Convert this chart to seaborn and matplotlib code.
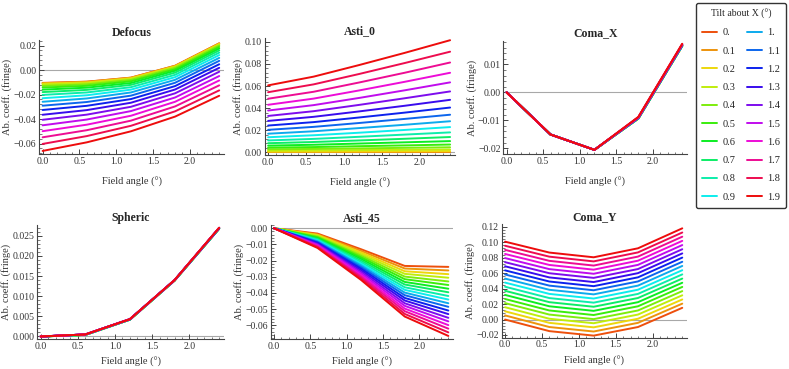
import colorsys
import numpy as np
import pandas as pd
import matplotlib
matplotlib.use("Agg")
import matplotlib.pyplot as plt
import seaborn as sns
from matplotlib.ticker import MultipleLocator, AutoMinorLocator, FuncFormatter
from matplotlib.lines import Line2D

# ---------------- data ----------------
FIELD = [0.0, 0.6, 1.2, 1.8, 2.4]
TILTS = ["0.", "0.1", "0.2", "0.3", "0.4", "0.5", "0.6", "0.7", "0.8", "0.9",
         "1.", "1.1", "1.2", "1.3", "1.4", "1.5", "1.6", "1.7", "1.8", "1.9"]

DEFOCUS = [
    [-0.0105, -0.0095, -0.0062, 0.0035, 0.0218],
    [-0.0107, -0.0096, -0.0063, 0.0034, 0.0217],
    [-0.0111, -0.0101, -0.0067, 0.0030, 0.0213],
    [-0.0119, -0.0107, -0.0073, 0.0025, 0.0207],
    [-0.0130, -0.0117, -0.0081, 0.0017, 0.0199],
    [-0.0143, -0.0129, -0.0092, 0.0006, 0.0188],
    [-0.0160, -0.0144, -0.0106, -0.0006, 0.0175],
    [-0.0180, -0.0162, -0.0121, -0.0021, 0.0160],
    [-0.0203, -0.0183, -0.0140, -0.0039, 0.0142],
    [-0.0230, -0.0206, -0.0160, -0.0058, 0.0122],
    [-0.0259, -0.0232, -0.0183, -0.0080, 0.0099],
    [-0.0291, -0.0261, -0.0209, -0.0104, 0.0075],
    [-0.0326, -0.0292, -0.0237, -0.0131, 0.0047],
    [-0.0365, -0.0327, -0.0267, -0.0159, 0.0018],
    [-0.0406, -0.0364, -0.0300, -0.0190, -0.0014],
    [-0.0451, -0.0404, -0.0335, -0.0224, -0.0049],
    [-0.0499, -0.0446, -0.0373, -0.0259, -0.0085],
    [-0.0549, -0.0491, -0.0413, -0.0297, -0.0125],
    [-0.0603, -0.0539, -0.0455, -0.0337, -0.0166],
    [-0.0660, -0.0590, -0.0500, -0.0380, -0.0210],
]

ASTI_0 = [
    [0.0000, 0.0000, 0.0000, 0.0000, 0.0000],
    [0.0002, 0.0002, 0.0002, 0.0002, 0.0003],
    [0.0007, 0.0008, 0.0009, 0.0010, 0.0011],
    [0.0015, 0.0017, 0.0020, 0.0022, 0.0025],
    [0.0027, 0.0030, 0.0035, 0.0040, 0.0045],
    [0.0042, 0.0047, 0.0055, 0.0062, 0.0070],
    [0.0060, 0.0068, 0.0079, 0.0090, 0.0101],
    [0.0082, 0.0093, 0.0107, 0.0122, 0.0138],
    [0.0107, 0.0121, 0.0140, 0.0160, 0.0180],
    [0.0136, 0.0154, 0.0177, 0.0202, 0.0228],
    [0.0168, 0.0190, 0.0219, 0.0249, 0.0281],
    [0.0203, 0.0230, 0.0265, 0.0302, 0.0340],
    [0.0242, 0.0273, 0.0315, 0.0359, 0.0405],
    [0.0284, 0.0321, 0.0370, 0.0421, 0.0475],
    [0.0329, 0.0372, 0.0429, 0.0489, 0.0551],
    [0.0378, 0.0427, 0.0492, 0.0561, 0.0633],
    [0.0430, 0.0486, 0.0560, 0.0638, 0.0720],
    [0.0485, 0.0548, 0.0632, 0.0720, 0.0813],
    [0.0544, 0.0615, 0.0709, 0.0808, 0.0911],
    [0.0606, 0.0685, 0.0790, 0.0900, 0.1015],
]

COMA_X = [
    [0.0, -0.0151, -0.0206, -0.0094, 0.0166],
    [0.0, -0.0151, -0.0206, -0.0094, 0.0166],
    [0.0, -0.0151, -0.0206, -0.0094, 0.0166],
    [0.0, -0.0151, -0.0206, -0.0094, 0.0166],
    [0.0, -0.0151, -0.0206, -0.0094, 0.0166],
    [0.0, -0.0151, -0.0206, -0.0094, 0.0167],
    [0.0, -0.0151, -0.0206, -0.0093, 0.0167],
    [0.0, -0.0151, -0.0206, -0.0093, 0.0167],
    [0.0, -0.0151, -0.0206, -0.0093, 0.0167],
    [0.0, -0.0151, -0.0206, -0.0093, 0.0168],
    [0.0, -0.0151, -0.0206, -0.0092, 0.0168],
    [0.0, -0.0151, -0.0206, -0.0092, 0.0169],
    [0.0, -0.0151, -0.0206, -0.0092, 0.0169],
    [0.0, -0.0151, -0.0206, -0.0091, 0.0170],
    [0.0, -0.0151, -0.0206, -0.0091, 0.0170],
    [0.0, -0.0151, -0.0206, -0.0090, 0.0171],
    [0.0, -0.0151, -0.0206, -0.0090, 0.0172],
    [0.0, -0.0151, -0.0206, -0.0089, 0.0172],
    [0.0, -0.0151, -0.0206, -0.0089, 0.0173],
    [0.0, -0.0151, -0.0206, -0.0088, 0.0174],
]

SPHERIC = [
    [0.0, 0.0004, 0.0042, 0.0139, 0.0268],
    [0.0, 0.0004, 0.0042, 0.0139, 0.0268],
    [0.0, 0.0004, 0.0042, 0.0139, 0.0268],
    [0.0, 0.0004, 0.0042, 0.0139, 0.0268],
    [0.0, 0.0004, 0.0042, 0.0139, 0.0268],
    [0.0, 0.0004, 0.0042, 0.0139, 0.0268],
    [0.0, 0.0004, 0.0042, 0.0139, 0.0268],
    [0.0, 0.0004, 0.0042, 0.0139, 0.0268],
    [0.0, 0.0004, 0.0042, 0.0139, 0.0268],
    [0.0, 0.0004, 0.0042, 0.0139, 0.0268],
    [0.0, 0.0005, 0.0043, 0.0140, 0.0269],
    [0.0, 0.0005, 0.0043, 0.0140, 0.0269],
    [0.0, 0.0005, 0.0043, 0.0140, 0.0269],
    [0.0, 0.0005, 0.0043, 0.0140, 0.0269],
    [0.0, 0.0005, 0.0043, 0.0140, 0.0269],
    [0.0, 0.0005, 0.0043, 0.0140, 0.0270],
    [0.0, 0.0005, 0.0043, 0.0140, 0.0270],
    [0.0, 0.0005, 0.0043, 0.0140, 0.0270],
    [0.0, 0.0005, 0.0043, 0.0140, 0.0270],
    [0.0, 0.0005, 0.0043, 0.0140, 0.0270],
]

ASTI_45 = [
    [0.0, -0.0033, -0.0130, -0.0233, -0.0239],
    [0.0, -0.0038, -0.0140, -0.0249, -0.0261],
    [0.0, -0.0042, -0.0150, -0.0266, -0.0284],
    [0.0, -0.0047, -0.0160, -0.0282, -0.0306],
    [0.0, -0.0052, -0.0170, -0.0299, -0.0329],
    [0.0, -0.0056, -0.0180, -0.0315, -0.0351],
    [0.0, -0.0061, -0.0190, -0.0332, -0.0374],
    [0.0, -0.0066, -0.0200, -0.0348, -0.0396],
    [0.0, -0.0070, -0.0210, -0.0365, -0.0419],
    [0.0, -0.0075, -0.0220, -0.0381, -0.0441],
    [0.0, -0.0080, -0.0230, -0.0398, -0.0464],
    [0.0, -0.0085, -0.0240, -0.0414, -0.0486],
    [0.0, -0.0089, -0.0250, -0.0431, -0.0509],
    [0.0, -0.0094, -0.0260, -0.0447, -0.0531],
    [0.0, -0.0099, -0.0270, -0.0464, -0.0554],
    [0.0, -0.0103, -0.0280, -0.0480, -0.0576],
    [0.0, -0.0108, -0.0290, -0.0497, -0.0599],
    [0.0, -0.0113, -0.0300, -0.0513, -0.0621],
    [0.0, -0.0117, -0.0310, -0.0530, -0.0644],
    [0.0, -0.0122, -0.0320, -0.0546, -0.0666],
]

COMA_Y = [
    [0.0000, -0.0150, -0.0208, -0.0097, 0.0151],
    [0.0053, -0.0097, -0.0155, -0.0043, 0.0205],
    [0.0106, -0.0043, -0.0101, 0.0010, 0.0259],
    [0.0159, 0.0010, -0.0048, 0.0064, 0.0313],
    [0.0212, 0.0064, 0.0005, 0.0117, 0.0367],
    [0.0265, 0.0117, 0.0058, 0.0171, 0.0421],
    [0.0318, 0.0171, 0.0112, 0.0224, 0.0475],
    [0.0371, 0.0224, 0.0165, 0.0278, 0.0529],
    [0.0424, 0.0277, 0.0218, 0.0331, 0.0583],
    [0.0477, 0.0331, 0.0271, 0.0385, 0.0637],
    [0.0529, 0.0384, 0.0325, 0.0438, 0.0692],
    [0.0582, 0.0438, 0.0378, 0.0492, 0.0746],
    [0.0635, 0.0491, 0.0431, 0.0545, 0.0800],
    [0.0688, 0.0544, 0.0484, 0.0599, 0.0854],
    [0.0741, 0.0598, 0.0538, 0.0652, 0.0908],
    [0.0794, 0.0651, 0.0591, 0.0706, 0.0962],
    [0.0847, 0.0705, 0.0644, 0.0760, 0.1016],
    [0.0900, 0.0758, 0.0697, 0.0813, 0.1070],
    [0.0953, 0.0812, 0.0751, 0.0867, 0.1124],
    [0.1006, 0.0865, 0.0804, 0.0920, 0.1178],
]

TITLES = ["Defocus", "Asti_0", "Coma_X", "Spheric", "Asti_45", "Coma_Y"]
SERIES = [DEFOCUS, ASTI_0, COMA_X, SPHERIC, ASTI_45, COMA_Y]

# ---------------- style ----------------
sns.set_style("ticks")
plt.rcParams["font.family"] = ["Liberation Serif", "DejaVu Serif"]
plt.rcParams["axes.unicode_minus"] = True

COLORS = [colorsys.hsv_to_rgb(((18 + 18 * i) % 360) / 360.0, 0.95, 0.93)
          for i in range(len(TILTS))]

# axes layout (left, bottom, width, height), ylim, major step, decimals, xlabel pad
LAYOUT = [
    ((0.0498, 0.5827, 0.2341, 0.3089), (-0.0685, 0.0245), 0.02, 2, 8),
    ((0.3355, 0.5799, 0.2412, 0.3171), (-0.0025, 0.1035), 0.02, 2, 8),
    ((0.6379, 0.5818, 0.2328, 0.3079), (-0.0222, 0.0185), 0.01, 2, 8),
    ((0.0473, 0.0805, 0.2366, 0.3098), (-0.0007, 0.0277), 0.005, 3, 4.5),
    ((0.3431, 0.0813, 0.2311, 0.3089), (-0.0685, 0.0020), 0.01, 2, 4.5),
    ((0.6359, 0.0848, 0.2349, 0.3073), (-0.0235, 0.1230), 0.02, 2, 4.5),
]

fig = plt.figure(figsize=(7.89, 3.69), dpi=100)
AXC = "#444444"


def make_fmt(dec):
    def f(v, pos):
        s = f"{v:.{dec}f}"
        if float(s) == 0:
            s = f"{0:.{dec}f}"
        return s.replace("-", "\u2212")
    return FuncFormatter(f)


for title, rows, (rect, ylim, step, dec, xpad) in zip(TITLES, SERIES, LAYOUT):
    ax = fig.add_axes(rect)
    recs = []
    for lab, row in zip(TILTS, rows):
        for x, v in zip(FIELD, row):
            recs.append({"field": x, "value": v, "tilt": lab})
    df = pd.DataFrame(recs)
    ax.axhline(0, color="#a8a8a8", lw=0.8, zorder=0.5)
    sns.lineplot(data=df, x="field", y="value", hue="tilt", hue_order=TILTS,
                 palette=COLORS, estimator=None, legend=False, lw=1.4,
                 ax=ax, zorder=2)
    ax.set_xlim(-0.045, 2.465)
    ax.set_ylim(*ylim)
    ax.xaxis.set_major_locator(MultipleLocator(0.5))
    ax.xaxis.set_minor_locator(AutoMinorLocator(5))
    ax.yaxis.set_major_locator(MultipleLocator(step))
    ax.yaxis.set_minor_locator(AutoMinorLocator(5))
    ax.xaxis.set_major_formatter(make_fmt(1))
    ax.yaxis.set_major_formatter(make_fmt(dec))
    for side in ("top", "right"):
        ax.spines[side].set_visible(False)
    for side in ("left", "bottom"):
        ax.spines[side].set_color(AXC)
        ax.spines[side].set_linewidth(0.8)
    ax.tick_params(which="major", direction="in", length=3.5, width=0.7,
                   color=AXC, labelsize=7, pad=2, labelcolor="#333333")
    ax.tick_params(which="minor", direction="in", length=1.8, width=0.5,
                   color=AXC)
    ax.set_title(title, fontsize=8.5, fontweight="bold", pad=3)
    ax.set_xlabel("Field angle (°)", fontsize=7.5, color="#333333",
                  labelpad=xpad)
    ax.set_ylabel("Ab. coeff. (fringe)", fontsize=7.5, color="#333333",
                  labelpad=1)

handles = [Line2D([0], [0], color=c, lw=1.4) for c in COLORS]
leg = fig.legend(handles, TILTS, ncol=2, title="Tilt about X (°)",
                 loc="upper right", bbox_to_anchor=(1.003, 1.006),
                 frameon=True, fancybox=True, edgecolor="#333333",
                 framealpha=1.0, fontsize=7.5, title_fontsize=7,
                 handlelength=1.45, handletextpad=0.5, labelspacing=0.86,
                 columnspacing=1.05, borderpad=0.6)
leg.get_frame().set_linewidth(1.0)

fig.savefig("out.png", dpi=100)
